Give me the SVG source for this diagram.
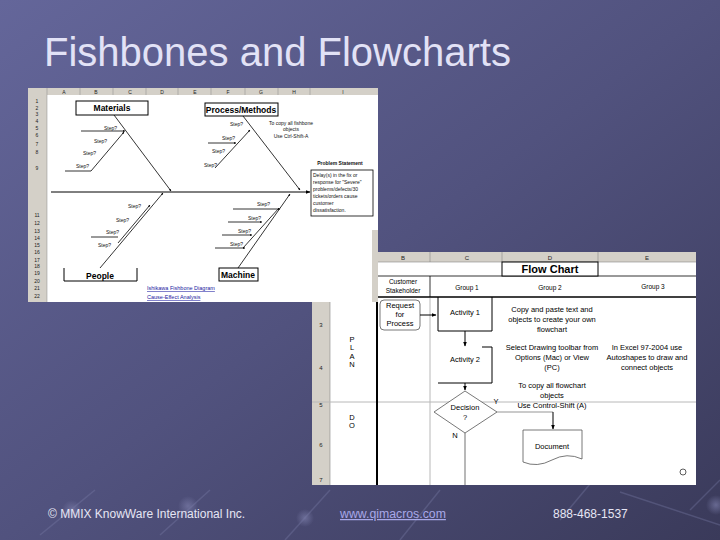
<svg xmlns="http://www.w3.org/2000/svg" width="720" height="540" viewBox="0 0 720 540">
<defs>
<linearGradient id="bg" x1="0" y1="0" x2="1" y2="1">
<stop offset="0" stop-color="#64669a"/>
<stop offset="0.5" stop-color="#51527e"/>
<stop offset="1" stop-color="#3a3a5a"/>
</linearGradient>
<radialGradient id="dot">
<stop offset="0" stop-color="#7a7ca8" stop-opacity="0.7"/>
<stop offset="1" stop-color="#7a7ca8" stop-opacity="0"/>
</radialGradient>
<marker id="ah" viewBox="0 0 10 10" refX="9" refY="5" markerWidth="5" markerHeight="5" orient="auto-start-reverse">
<path d="M0,1 L10,5 L0,9 z" fill="#000"/>
</marker>
<marker id="as" viewBox="0 0 10 10" refX="9" refY="5" markerWidth="3" markerHeight="3" orient="auto">
<path d="M0,1 L10,5 L0,9 z" fill="#000"/>
</marker>
<style>
.t{font-family:"Liberation Sans",Arial,sans-serif}
.title{font-size:40px;fill:#e2e2f6}
.foot{font-size:12px;fill:#e6e6f4}
.link{font-size:12.3px;fill:#a8a8e8;text-decoration:underline}
.hdr{fill:#d4d0c8}
.hl{font-size:6px;fill:#222}
.bx{fill:#fff;stroke:#000;stroke-width:1}
.ln{stroke:#000;stroke-width:1;fill:none}
.th{stroke:#000;stroke-width:0.8;fill:none}
.grid{stroke:#b8b8b8;stroke-width:1;fill:none}
.bold{font-size:8.5px;font-weight:bold;fill:#000}
.sm{font-size:5px;fill:#111}
.fc{font-size:7.5px;fill:#000}
.bl{font-size:5.5px;fill:#1a1aa0;text-decoration:underline}
</style>
</defs>
<rect width="720" height="540" fill="url(#bg)"/>
<g id="decor" stroke="#7c7ea8" stroke-opacity="0.35" stroke-width="1.5" fill="none">
<line x1="40" y1="535" x2="95" y2="490"/>
<line x1="160" y1="535" x2="210" y2="490"/>
<line x1="285" y1="540" x2="330" y2="490"/>
<line x1="400" y1="540" x2="440" y2="490"/>
<line x1="560" y1="520" x2="610" y2="460"/>
<line x1="690" y1="510" x2="720" y2="480"/>
<line x1="620" y1="492" x2="720" y2="525"/>
</g>
<g fill="url(#dot)">
<circle cx="72" cy="510" r="10"/>
<circle cx="188" cy="506" r="10"/>
<circle cx="305" cy="518" r="9"/>
<circle cx="716" cy="505" r="10"/>
</g>
<text class="t title" x="44" y="66">Fishbones and Flowcharts</text>

<!-- Flowchart screenshot -->
<g id="flowchart">
<rect x="312" y="252" width="384" height="233" fill="#fff"/>
<rect class="hdr" x="312" y="252" width="384" height="10"/>
<rect class="hdr" x="312" y="252" width="18" height="233"/>
<g stroke="#888" stroke-width="0.6">
<line x1="377" y1="252" x2="377" y2="262"/><line x1="430" y1="252" x2="430" y2="262"/>
<line x1="502" y1="252" x2="502" y2="262"/><line x1="598" y1="252" x2="598" y2="262"/>
<line x1="312" y1="262" x2="696" y2="262"/>
<line x1="330" y1="252" x2="330" y2="485"/>
</g>
<g class="t hl" text-anchor="middle">
<text x="403" y="260">B</text><text x="467" y="260">C</text><text x="550" y="260">D</text><text x="647" y="260">E</text>
<text x="321" y="327">3</text><text x="321" y="370">4</text><text x="321" y="407">5</text><text x="321" y="447">6</text><text x="321" y="482">7</text>
</g>
<line class="grid" x1="312" y1="402" x2="696" y2="402"/>
<line class="grid" x1="430" y1="298" x2="430" y2="485"/>
<line x1="430" y1="276" x2="430" y2="297" stroke="#000" stroke-width="0.8"/>
<line x1="377" y1="276" x2="696" y2="276" stroke="#000" stroke-width="0.8"/>
<line x1="377" y1="297" x2="696" y2="297" stroke="#000" stroke-width="1.3"/>
<line x1="377" y1="297" x2="377" y2="485" stroke="#000" stroke-width="2"/>
<line x1="465" y1="433" x2="465" y2="485" stroke="#b8b8b8" stroke-width="2"/>
<g id="fc-title"><rect class="bx" x="502" y="262" width="96" height="14"/><text class="t" x="550" y="273" text-anchor="middle" font-size="11" font-weight="bold">Flow Chart</text></g>
<g class="t" font-size="6.5" text-anchor="middle" fill="#000">
<text x="403" y="284">Customer</text><text x="403" y="293">Stakeholder</text>
<text x="467" y="290">Group 1</text><text x="550" y="290">Group 2</text><text x="653" y="289">Group 3</text>
</g>
<g class="t fc" text-anchor="middle">
<text x="352" y="342">P</text><text x="352" y="350">L</text><text x="352" y="359">A</text><text x="352" y="367">N</text>
<text x="352" y="420">D</text><text x="352" y="428">O</text>
</g>
<g id="request"><rect x="380" y="300" width="40" height="30" rx="4" fill="#fff" stroke="#555" stroke-width="0.8"/>
<text class="t fc" x="400" y="308" text-anchor="middle">Request</text><text class="t fc" x="400" y="317" text-anchor="middle">for</text><text class="t fc" x="400" y="326" text-anchor="middle">Process</text></g>
<g id="activity1"><path class="ln" d="M438,297 V331 H492 V297"/><text class="t fc" x="465" y="315" text-anchor="middle">Activity 1</text></g>
<g id="activity2"><path class="ln" d="M482,347 H492 V383 H438"/><text class="t fc" x="465" y="362" text-anchor="middle">Activity 2</text></g>
<g id="decision"><polygon points="465,391 497,412 465,433 434,412" fill="#fff" stroke="#555" stroke-width="0.8"/>
<text class="t fc" x="465" y="410" text-anchor="middle">Decision</text><text class="t fc" x="465" y="420" text-anchor="middle">?</text></g>
<g id="document"><path d="M523,430 H582 V459 Q567,452 552,460 Q537,468 523,462 Z" fill="#fff" stroke="#555" stroke-width="0.8"/>
<text class="t fc" x="552" y="449" text-anchor="middle">Document</text></g>
<g class="t fc" text-anchor="middle">
<text x="552" y="312">Copy and paste text and</text><text x="552" y="322">objects to create your own</text><text x="552" y="332">flowchart</text>
<text x="552" y="350">Select Drawing toolbar from</text><text x="552" y="360">Options (Mac) or View</text><text x="552" y="370">(PC)</text>
<text x="647" y="350">In Excel 97-2004 use</text><text x="647" y="360">Autoshapes to draw and</text><text x="647" y="370">connect objects</text>
<text x="552" y="388">To copy all flowchart</text><text x="552" y="398">objects</text><text x="552" y="408">Use Control-Shift (A)</text>
<text x="496" y="404">Y</text><text x="455" y="438">N</text>
</g>
<circle cx="683" cy="472" r="3" fill="none" stroke="#333" stroke-width="0.8"/>
</g>
<g id="fc-connectors" class="ln">
<line x1="420" y1="315" x2="436" y2="315" marker-end="url(#ah)"/>
<line x1="465" y1="331" x2="465" y2="346" marker-end="url(#ah)"/>
<line x1="465" y1="383" x2="465" y2="390" marker-end="url(#ah)"/>
<line x1="497" y1="412" x2="553" y2="412" stroke="#b8b8b8" stroke-width="1.5"/>
<line x1="553" y1="412" x2="553" y2="429" marker-end="url(#ah)"/>
</g>

<!-- Fishbone screenshot -->
<g id="fishbone">
<rect x="28" y="88" width="350" height="214" fill="#fff"/>
<rect class="hdr" x="28" y="88" width="350" height="7"/>
<rect class="hdr" x="28" y="88" width="19" height="214"/>
<rect class="hdr" x="372" y="230" width="6" height="72"/>
<g stroke="#888" stroke-width="0.5">
<line x1="80" y1="88" x2="80" y2="95"/><line x1="113" y1="88" x2="113" y2="95"/><line x1="146" y1="88" x2="146" y2="95"/>
<line x1="178" y1="88" x2="178" y2="95"/><line x1="211" y1="88" x2="211" y2="95"/><line x1="245" y1="88" x2="245" y2="95"/>
<line x1="278" y1="88" x2="278" y2="95"/><line x1="310" y1="88" x2="310" y2="95"/>
<line x1="47" y1="88" x2="47" y2="302"/>
</g>
<g class="t" font-size="5" fill="#222" text-anchor="middle">
<text x="64" y="94">A</text><text x="96" y="94">B</text><text x="130" y="94">C</text><text x="162" y="94">D</text><text x="195" y="94">E</text>
<text x="228" y="94">F</text><text x="261" y="94">G</text><text x="294" y="94">H</text><text x="343" y="94">I</text>
<text x="37" y="103">1</text><text x="37" y="110">2</text><text x="37" y="116">3</text><text x="37" y="123">4</text><text x="37" y="130">5</text>
<text x="37" y="137">6</text><text x="37" y="146">7</text><text x="37" y="154">8</text><text x="37" y="170">9</text>
<text x="37" y="217">11</text><text x="37" y="225">12</text><text x="37" y="233">13</text><text x="37" y="240">14</text><text x="37" y="247">15</text>
<text x="37" y="254">16</text><text x="37" y="262">17</text><text x="37" y="268">18</text><text x="37" y="275">19</text><text x="37" y="283">20</text>
<text x="37" y="290">21</text><text x="37" y="298">22</text>
</g>
<g id="materials"><rect class="bx" x="76" y="101" width="72" height="14"/><text class="t bold" x="112" y="111" text-anchor="middle">Materials</text></g>
<g id="process"><rect class="bx" x="205" y="103" width="73" height="13"/><text class="t bold" x="241" y="113" text-anchor="middle">Process/Methods</text></g>
<g id="people"><path class="ln" d="M64,268 V281 H137 V268"/><text class="t bold" x="100" y="279" text-anchor="middle">People</text></g>
<g id="machine"><rect class="bx" x="219" y="268" width="39" height="13"/><text class="t bold" x="238" y="278" text-anchor="middle">Machine</text></g>
<g id="problem"><text class="t" x="340" y="165" font-size="5" font-weight="bold" text-anchor="middle" fill="#111">Problem Statement</text>
<rect x="311" y="170" width="62" height="46" fill="#fff" stroke="#000" stroke-width="0.8"/>
<g class="t sm" font-size="5.3"><text x="313" y="177">Delay(s) in the fix or</text><text x="313" y="184">response for "Severe"</text><text x="313" y="191">problems/defects/30</text><text x="313" y="198">tickets/orders cause</text><text x="313" y="205">customer</text><text x="313" y="212">dissatisfaction.</text></g></g>
<g class="t sm" text-anchor="middle"><text x="291" y="125">To copy all fishbone</text><text x="291" y="131">objects</text><text x="291" y="138">Use Ctrl-Shift-A</text></g>
<g class="t sm">
<text x="104" y="130">Step?</text><text x="94" y="143">Step?</text><text x="83" y="155">Step?</text><text x="76" y="168">Step?</text>
<text x="230" y="126">Step?</text><text x="222" y="140">Step?</text><text x="212" y="153">Step?</text><text x="204" y="167">Step?</text>
<text x="128" y="208">Step?</text><text x="116" y="222">Step?</text><text x="106" y="234">Step?</text><text x="98" y="247">Step?</text>
<text x="257" y="206">Step?</text><text x="248" y="220">Step?</text><text x="238" y="233">Step?</text><text x="230" y="246">Step?</text>
</g>
<g class="t bl"><text x="147" y="290">Ishikawa Fishbone Diagram</text><text x="147" y="299">Cause-Effect Analysis</text></g>
</g>
<g id="fb-connectors">
<line class="ln" x1="51" y1="192" x2="310" y2="192" marker-end="url(#ah)"/>
<line class="th" x1="114" y1="115" x2="171" y2="191" marker-end="url(#as)"/>
<line class="th" x1="243" y1="116" x2="300" y2="190" marker-end="url(#as)"/>
<line class="th" x1="100" y1="268" x2="163" y2="193" marker-end="url(#as)"/>
<line class="th" x1="238" y1="268" x2="290" y2="194" marker-end="url(#as)"/>
<line class="th" x1="81" y1="131" x2="125" y2="131" marker-end="url(#as)"/>
<line class="th" x1="65" y1="171" x2="91" y2="171"/>
<line class="th" x1="91" y1="171" x2="124" y2="132" marker-end="url(#as)"/>
<line class="th" x1="208" y1="143" x2="236" y2="143" marker-end="url(#as)"/>
<line class="th" x1="215" y1="168" x2="250" y2="130" marker-end="url(#as)"/>
<line class="th" x1="91" y1="237" x2="118" y2="237"/>
<line class="th" x1="118" y1="243" x2="150" y2="205" marker-end="url(#as)"/>
<line class="th" x1="233" y1="209" x2="280" y2="209" marker-end="url(#as)"/>
<line class="th" x1="228" y1="222" x2="262" y2="222" marker-end="url(#as)"/>
<line class="th" x1="222" y1="235" x2="252" y2="235" marker-end="url(#as)"/>
<line class="th" x1="215" y1="248" x2="245" y2="248" marker-end="url(#as)"/>
<line class="th" x1="243" y1="248" x2="279" y2="208"/>
</g>

<text class="t foot" x="48" y="518">© MMIX KnowWare International Inc.</text>
<text class="t link" x="340" y="518">www.qimacros.com</text>
<text class="t foot" x="553" y="518">888-468-1537</text>
</svg>
